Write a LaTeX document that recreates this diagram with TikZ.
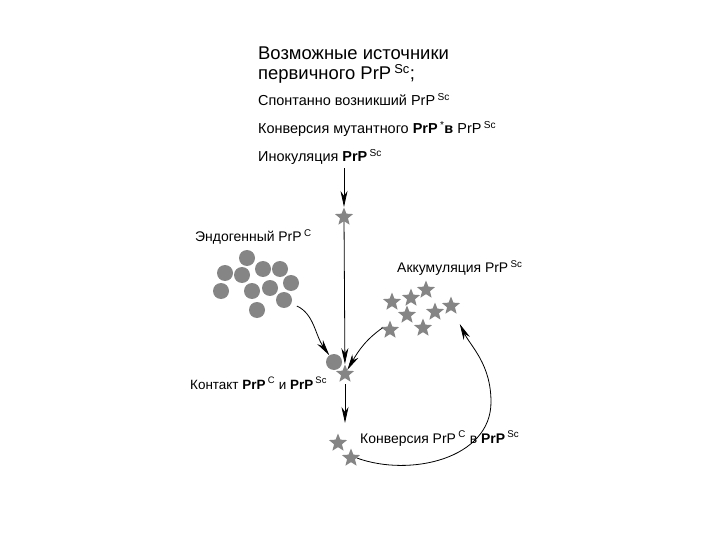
\documentclass[tikz,border=0pt]{standalone}
\usepackage{fontspec}
\setmainfont{Liberation Sans}
\usetikzlibrary{arrows.meta,positioning,shapes.geometric}
\definecolor{PrionGray}{HTML}{858585}
\newcommand{\upi}[1]{\,\textsuperscript{#1}}

\begin{document}
\begin{tikzpicture}[
  x=1bp,y=1bp,
  flow/.style={
    -{Stealth[length=16bp,width=7bp,inset=5bp]},
    line width=0.8bp,
    draw=black
  },
  headline/.style={
    anchor=base west,
    inner sep=0pt,
    font=\fontsize{18.5}{19}\selectfont
  },
  sidenote/.style={
    anchor=base west,
    inner sep=0pt,
    font=\fontsize{14}{15}\selectfont
  },
  sourcenote/.style={
    sidenote,
    font=\fontsize{14.5}{15}\selectfont
  },
  protein/.style={
    circle,
    fill=PrionGray,
    minimum size=16bp,
    inner sep=0pt
  },
  prion/.style={
    star,
    star points=5,
    star point ratio=2.3,
    fill=PrionGray,
    minimum size=19bp,
    inner sep=0pt
  }
]
\useasboundingbox[fill=white] (0,0) rectangle (720,-540);

% -------------------------------------------------
% Sources of PrP^Sc
% -------------------------------------------------
\node[headline] (title1) at (258,-60) {Возможные источники};
\node[headline] (title2) at (258,-80) {первичного PrP\upi{Sc};};

\node[sourcenote] (spont) at (258,-106) {Спонтанно возникший PrP\upi{Sc}};
\node[sourcenote] (mutant) at (258,-134)
  {Конверсия мутантного \textbf{PrP}\upi{*}\textbf{в} PrP\upi{Sc}};
\node[sourcenote] (ino) at (258,-162) {Инокуляция \textbf{PrP}\upi{Sc}};

\node[prion] (s0) at (344,-217) {};

% -------------------------------------------------
% Endogenous PrP^C
% -------------------------------------------------
\node[sidenote] (endo) at (195,-242) {Эндогенный PrP\upi{C}};

\foreach \name/\px/\py in {c1/247/-258, c2/225/-273, c3/242/-275,
  c4/263/-269, c5/280/-269, c6/221/-291, c7/252/-291, c8/270/-288,
  c9/291/-283, c10/284/-300, c11/257/-310}
  \node[protein] (\name) at (\px,\py) {};

% -------------------------------------------------
% Accumulation
% -------------------------------------------------
\node[sidenote] (accum) at (397,-273) {Аккумуляция PrP\upi{Sc}};

\foreach \name/\px/\py in {a1/392/-302, a2/411/-298, a3/426/-290,
  a4/407/-315, a5/435/-312, a6/451/-306, a7/390/-330, a8/423/-328}
  \node[prion] (\name) at (\px,\py) {};

% -------------------------------------------------
% Contact and conversion
% -------------------------------------------------
\node[protein] (k1) at (334,-362) {};
\node[prion] (k2) at (345,-374) {};
\node[sidenote, font=\fontsize{13.5}{15}\selectfont] (contact) at (190,-389)
  {Контакт \textbf{PrP}\upi{C} и \textbf{PrP}\upi{Sc}};

\node[prion] (t1) at (338,-443) {};
\node[prion] (t2) at (351,-458) {};
\node[sidenote] (conv) at (360,-443)
  {Конверсия PrP\upi{C} в \textbf{PrP}\upi{Sc}};

\coordinate (loop) at (491,-402);

% arrows
\draw[flow] (s0 |- ino.south) ++(0,-3) -- (s0);
\draw[flow] (s0) -- (k2);
\draw[flow, shorten <=6bp] (c10) to[out=-25,in=125] (k1);
\draw[flow, shorten <=2bp] (a7.150) to[out=215,in=60] (k2);
\draw[flow, shorten <=6bp, shorten >=10bp] (k2) -- (k2 |- t1.north);
\draw[line width=0.8bp] (t2.east) to[out=-20,in=-90] (loop);
\draw[flow, shorten >=13bp] (loop) to[out=90,in=-64] (a6);

\end{tikzpicture}
\end{document}
